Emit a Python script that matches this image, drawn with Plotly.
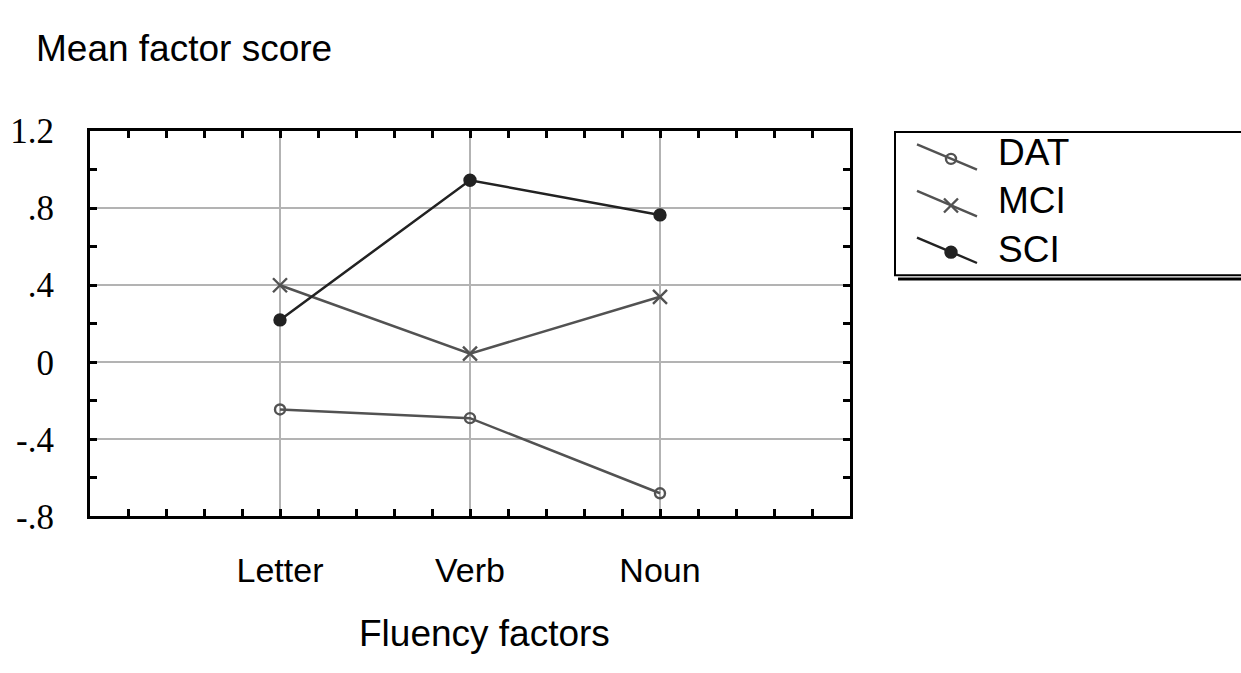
import numpy as np
import plotly.graph_objects as go

# Mean factor scores per fluency factor and diagnostic group
categories = ["Letter", "Verb", "Noun"]
groups = ["DAT", "MCI", "SCI"]
dat = [-0.245, -0.29, -0.68]
mci = [0.40, 0.045, 0.34]
sci = [0.22, 0.945, 0.765]
y_ticks = [-0.8, -0.4, 0.0, 0.4, 0.8, 1.2]
y_tick_labels = ["-.8", "-.4", "0", ".4", ".8", "1.2"]

series = {"DAT": dat, "MCI": mci, "SCI": sci}
styles = {
    "DAT": dict(color="#525252", symbol="circle-open", size=10, lw=2.5),
    "MCI": dict(color="#525252", symbol="x-thin-open", size=14, lw=2.5),
    "SCI": dict(color="#222222", symbol="circle", size=11, lw=2.5),
}

W, H = 1241, 673
# plot frame (pixels from top-left)
L, R, T, B = 90, 850, 119, 528
# legend box (pixels)
LX0, LY0, LY1 = 895, 120, 272


def px(x):
    return x / W


def py(y):
    return 1 - y / H


sans = "Liberation Sans, Arial, sans-serif"
serif = "Liberation Serif, Times New Roman, serif"

fig = go.Figure()

xpos = np.arange(1, len(categories) + 1)
for g in groups:
    st = styles[g]
    fig.add_trace(go.Scatter(
        x=xpos, y=series[g], mode="lines+markers", name=g,
        line=dict(color=st["color"], width=st["lw"]),
        marker=dict(symbol=st["symbol"], size=st["size"], color=st["color"],
                    line=dict(color=st["color"], width=2.4)),
        showlegend=False, xaxis="x", yaxis="y",
    ))

# hand-drawn legend on its own pixel-scaled axes (origin at box top-left)
for i, g in enumerate(groups):
    st = styles[g]
    y0 = 13 + i * 49.5
    fig.add_trace(go.Scatter(
        x=[22, 82], y=[y0, y0 + 27], mode="lines",
        line=dict(color=st["color"], width=2.4),
        showlegend=False, xaxis="x2", yaxis="y2", hoverinfo="skip",
    ))
    fig.add_trace(go.Scatter(
        x=[56], y=[y0 + 15.5], mode="markers",
        marker=dict(symbol=st["symbol"], size=st["size"], color=st["color"],
                    line=dict(color=st["color"], width=2.4)),
        showlegend=False, xaxis="x2", yaxis="y2", hoverinfo="skip",
    ))
    fig.add_annotation(x=101, y=21.5 + i * 51.5, xref="x2", yref="y2",
                       text=g, showarrow=False, xanchor="left", yanchor="middle",
                       font=dict(family=sans, size=37, color="black"))

tick_style = dict(ticks="inside", ticklen=7, tickwidth=2.5, tickcolor="black")

fig.update_layout(
    width=W, height=H,
    margin=dict(l=0, r=0, t=0, b=0),
    paper_bgcolor="white", plot_bgcolor="white",
    xaxis=dict(
        domain=[px(L), px(R)], range=[0, 4],
        tickmode="array", tickvals=xpos, ticktext=categories,
        showline=True, linewidth=3, linecolor="black", mirror="ticks",
        showgrid=True, gridcolor="#b3b3b3", gridwidth=2, zeroline=False,
        tickfont=dict(family=sans, size=34, color="black"),
        ticklabelstandoff=22,
        minor=dict(tickvals=np.round(np.arange(0.2, 4.0, 0.2), 2), showgrid=False,
                   **tick_style),
        **tick_style,
    ),
    yaxis=dict(
        domain=[py(B), py(T)], range=[-0.8, 1.2],
        tickmode="array", tickvals=y_ticks, ticktext=y_tick_labels,
        showline=True, linewidth=3, linecolor="black", mirror="ticks",
        showgrid=True, gridcolor="#b3b3b3", gridwidth=2, zeroline=False,
        tickfont=dict(family=serif, size=35, color="black"),
        ticklabelstandoff=26,
        minor=dict(tickvals=np.round(np.arange(-0.6, 1.2, 0.4), 2), showgrid=False,
                   **tick_style),
        **tick_style,
    ),
    xaxis2=dict(domain=[px(LX0), 1], range=[0, W - LX0], visible=False,
                fixedrange=True),
    yaxis2=dict(domain=[py(LY0 + 160), py(LY0)], range=[160, 0], visible=False,
                fixedrange=True),
)

# legend frame with drop shadow
fig.add_shape(type="rect", xref="paper", yref="paper",
              x0=px(LX0), x1=px(W + 5), y0=py(LY1), y1=py(LY0),
              line=dict(color="black", width=2), fillcolor="rgba(0,0,0,0)")
fig.add_shape(type="line", xref="paper", yref="paper",
              x0=px(LX0 + 3), x1=px(W + 5), y0=py(LY1 + 4), y1=py(LY1 + 4),
              line=dict(color="black", width=3))

# axis titles
fig.add_annotation(x=px(34), y=py(31), xref="paper", yref="paper",
                   text="Mean factor score", showarrow=False,
                   xanchor="left", yanchor="middle",
                   font=dict(family=sans, size=37, color="black"))
fig.add_annotation(x=px(484), y=py(652), xref="paper", yref="paper",
                   text="Fluency factors", showarrow=False,
                   xanchor="center", yanchor="middle",
                   font=dict(family=sans, size=37, color="black"))

fig.write_html("out.html")
